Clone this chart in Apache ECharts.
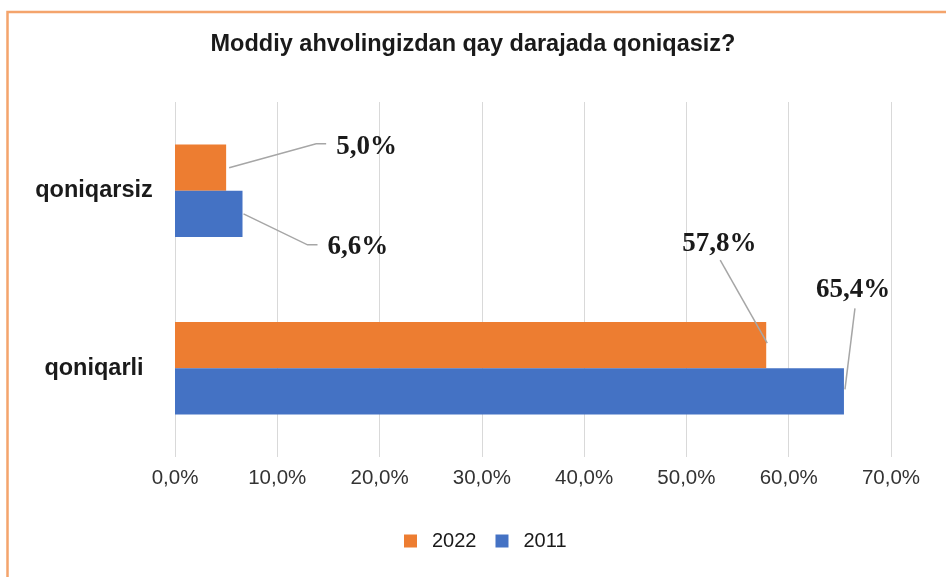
<!DOCTYPE html>
<html>
<head>
<meta charset="utf-8">
<script src="https://cdn.jsdelivr.net/npm/echarts@6/dist/echarts.min.js"></script>
<style>
  html, body { margin: 0; padding: 0; background: #fff; }
  #chart { width: 946px; height: 577px; }
</style>
</head>
<body>
<div id="chart"></div>
<script>
// data
const categories = ['qoniqarli', 'qoniqarsiz'];   // bottom -> top
const values2022 = [57.8, 5.0];
const values2011 = [65.4, 6.6];
const xTicks = [0, 10, 20, 30, 40, 50, 60, 70];

// where the value labels are pushed to (dx, dy) per category
const labelShift = {
  '2022': [[-89, -101], [105, -21]],
  '2011': [[-33, -101], [80, 33]]
};
// leader line bends, in px from the bar end
const leaderBends = {
  '2022': [[[1, -2], [-46, -85]], [[3, 0], [90, -24], [100, -24]]],
  '2011': [[[1, -2], [11, -83]], [[1, 0], [65, 31], [75, 31]]]
};

const barGapRatio = 0.48;

function pct(v) {
  return v.toFixed(1).replace('.', ',') + '%';
}

const chart = echarts.init(document.getElementById('chart'));

function barSeries(name, values, color) {
  return {
    name: name,
    type: 'bar',
    data: values,
    barCategoryGap: (barGapRatio * 100) + '%',
    barGap: '0%',
    itemStyle: { color: color },
    label: {
      show: true,
      position: 'right',
      distance: 5,
      formatter: p => pct(p.value),
      fontFamily: '"Liberation Serif", "Times New Roman", serif',
      fontWeight: 'bold',
      fontSize: 27,
      color: '#1a1a1a'
    },
    labelLayout: p => {
      const s = labelShift[name][p.dataIndex];
      return { dx: s[0], dy: s[1] };
    }
  };
}

// one leader line per bar: [value, category index, series index (0 = 2022 top, 1 = 2011 bottom)]
const leaderData = [];
values2022.forEach((v, i) => leaderData.push([v, i, 0]));
values2011.forEach((v, i) => leaderData.push([v, i, 1]));

chart.setOption({
  backgroundColor: '#fff',
  animation: false,
  textStyle: { fontFamily: '"Liberation Sans", Arial, sans-serif' },
  title: {
    text: 'Moddiy ahvolingizdan qay darajada qoniqasiz?',
    left: 'center',
    top: 28,
    textStyle: { fontSize: 23.5, fontWeight: 'bold', color: '#1a1a1a' }
  },
  graphic: [{
    type: 'rect',
    shape: { x: 7.5, y: 12, width: 1100, height: 700 },
    style: { fill: 'none', stroke: '#F4A46C', lineWidth: 2.5 },
    silent: true
  }],
  legend: {
    data: ['2022', '2011'],
    left: 399,
    top: 526,
    itemWidth: 13,
    itemHeight: 13,
    itemGap: 19,
    icon: 'rect',
    textStyle: { fontSize: 20, color: '#1a1a1a', padding: [0, 0, 0, 10] }
  },
  grid: {
    left: 175,
    right: 55,
    top: 102,
    bottom: 120
  },
  xAxis: {
    type: 'value',
    min: xTicks[0],
    max: xTicks[xTicks.length - 1],
    interval: 10,
    axisLine: { show: false },
    axisTick: { show: false },
    splitLine: { lineStyle: { color: '#D9D9D9', width: 1 } },
    axisLabel: {
      margin: 11,
      fontSize: 20.5,
      color: '#333',
      formatter: v => pct(v)
    }
  },
  yAxis: {
    type: 'category',
    data: categories,
    axisLine: { show: false },
    axisTick: { show: false },
    axisLabel: {
      align: 'center',
      margin: 81,
      fontSize: 23.5,
      fontWeight: 'bold',
      color: '#1a1a1a'
    }
  },
  series: [
    barSeries('2022', values2022, '#ED7D31'),
    barSeries('2011', values2011, '#4472C4'),
    {
      name: 'leaders',
      type: 'custom',
      silent: true,
      z: 5,
      data: leaderData,
      encode: { x: 0, y: 1 },
      renderItem: (params, api) => {
        const v = api.value(0), cat = api.value(1), si = api.value(2);
        const end = api.coord([v, cat]);
        const band = api.size([0, 1])[1];
        const barW = band * (1 - barGapRatio) / 2;
        const by = end[1] + (si === 0 ? -barW / 2 : barW / 2);
        const bends = leaderBends[si === 0 ? '2022' : '2011'][cat];
        return {
          type: 'polyline',
          shape: { points: bends.map(b => [end[0] + b[0], by + b[1]]) },
          style: { stroke: '#A6A6A6', lineWidth: 1.5, fill: null }
        };
      }
    }
  ]
});
</script>
</body>
</html>
